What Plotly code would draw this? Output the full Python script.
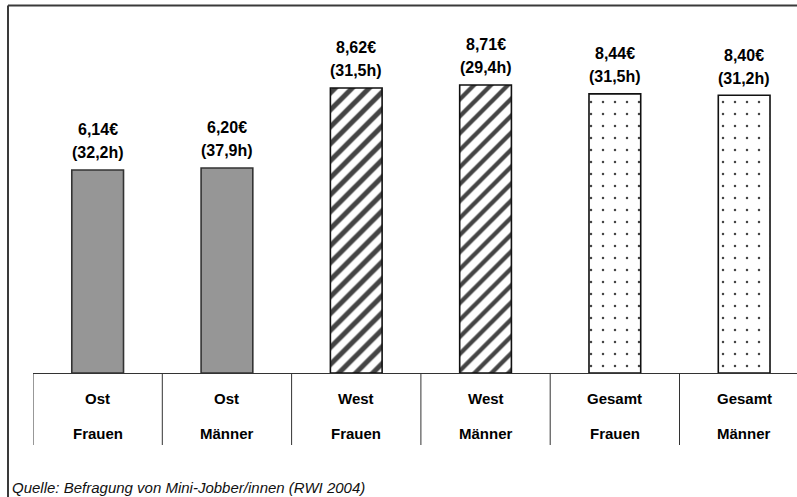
import plotly.graph_objects as go

# Hourly wage (EUR) and weekly hours of mini-jobbers by region and sex
regions = ["Ost", "Ost", "West", "West", "Gesamt", "Gesamt"]
sexes = ["Frauen", "Männer", "Frauen", "Männer", "Frauen", "Männer"]
wage = [6.14, 6.20, 8.62, 8.71, 8.44, 8.40]
hours = [32.2, 37.9, 31.5, 29.4, 31.5, 31.2]
source_note = "Quelle: Befragung von Mini-Jobber/innen (RWI 2004)"

W, H = 797, 497
FONT = "Liberation Sans, Arial, sans-serif"

# canvas geometry (pixels)
plot_left = 33
baseline_px = 373
cat_px = 129.3
unit_px = 33.07

idx = list(range(len(wage)))

fills = ["#969696", "#969696", "white", "white", "white", "white"]
shapes_pat = ["", "", "/", "/", ".", "."]
fg = ["#969696", "#969696", "#000000", "#3a3a3a", "#707070", "#707070"]
sizes = [8, 8, 12, 12, 12, 12]
solid = [0.3, 0.3, 0.42, 0.36, 0.035, 0.035]
line_col = ["#333333", "#333333", "#111111", "#111111", "#111111", "#111111"]

fig = go.Figure()
fig.add_trace(go.Bar(
    x=idx, y=wage, width=0.4,
    marker=dict(
        color=fills,
        line=dict(color=line_col, width=1.6),
        pattern=dict(shape=shapes_pat, fgcolor=fg,
                     size=sizes, solidity=solid, fillmode="overlay",
                     fgopacity=1),
    ),
    hoverinfo="skip",
))

ann = []
def fmt(v, d):
    return f"{v:.{d}f}".replace(".", ",")

for i, (w, h) in enumerate(zip(wage, hours)):
    ann.append(dict(x=i, y=w, xref="x", yref="y", text=f"<b>{fmt(w, 2)}€</b>",
                    showarrow=False, yanchor="middle", yshift=40,
                    font=dict(family=FONT, size=16, color="black")))
    ann.append(dict(x=i, y=w, xref="x", yref="y", text=f"<b>({fmt(h, 1)}h)</b>",
                    showarrow=False, yanchor="middle", yshift=17,
                    font=dict(family=FONT, size=16, color="black")))
    ann.append(dict(x=i, y=1 - 398 / H, xref="x", yref="paper", text=f"<b>{regions[i]}</b>",
                    showarrow=False, yanchor="middle",
                    font=dict(family=FONT, size=15, color="black")))
    ann.append(dict(x=i, y=1 - 433 / H, xref="x", yref="paper", text=f"<b>{sexes[i]}</b>",
                    showarrow=False, yanchor="middle",
                    font=dict(family=FONT, size=15, color="black")))

ann.append(dict(x=10 / W, y=1 - 487 / H, xref="paper", yref="paper", text=f"<i>{source_note}</i>",
                showarrow=False, xanchor="left", yanchor="middle",
                font=dict(family=FONT, size=15, color="#111111")))

shapes = [
    # outer frame: top and left edges (the rest runs off the canvas)
    dict(type="line", xref="paper", yref="paper",
         x0=8 / W, x1=1.02, y0=1 - 5.5 / H, y1=1 - 5.5 / H,
         line=dict(color="#3a3a3a", width=2), layer="above"),
    dict(type="line", xref="paper", yref="paper",
         x0=8 / W, x1=8 / W, y0=-0.02, y1=1 - 5.5 / H,
         line=dict(color="#3a3a3a", width=2), layer="above"),
]
# table column separators under the baseline
for i in range(len(wage)):
    shapes.append(dict(type="line", xref="x", yref="paper",
                       x0=i - 0.5, x1=i - 0.5,
                       y0=1 - baseline_px / H, y1=1 - 445 / H,
                       line=dict(color="#333333", width=1)))

x_hi = -0.5 + (W - plot_left) / cat_px
y_hi = baseline_px / unit_px

fig.update_layout(
    width=W, height=H,
    margin=dict(l=0, r=0, t=0, b=0),
    paper_bgcolor="white", plot_bgcolor="white",
    showlegend=False,
    xaxis=dict(domain=[plot_left / W, 1], range=[-0.5, x_hi],
               showline=True, linecolor="#333333", linewidth=1,
               showticklabels=False, ticks="", showgrid=False, zeroline=False),
    yaxis=dict(domain=[1 - baseline_px / H, 1], range=[0, y_hi],
               showline=False, showticklabels=False, ticks="",
               showgrid=False, zeroline=False),
    annotations=ann,
    shapes=shapes,
)

fig.write_html("out.html")
